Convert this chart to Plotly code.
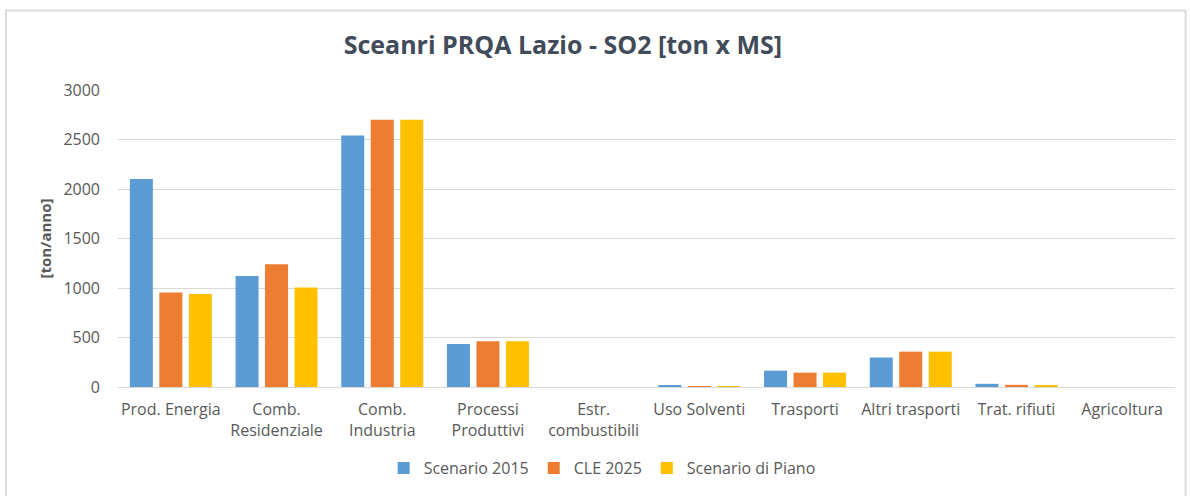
import plotly.graph_objects as go

# SO2 emissions by macro-sector, tonnes per year
categories = [
    "Prod. Energia",
    "Comb.<br>Residenziale",
    "Comb.<br>Industria",
    "Processi<br>Produttivi",
    "Estr.<br>combustibili",
    "Uso Solventi",
    "Trasporti",
    "Altri trasporti",
    "Trat. rifiuti",
    "Agricoltura",
]
scenario_2015 = [2100, 1120, 2540, 435, 0, 12, 165, 298, 32, 0]
cle_2025 = [955, 1240, 2700, 462, 0, 10, 145, 357, 22, 0]
scenario_piano = [940, 1005, 2700, 462, 0, 10, 145, 357, 20, 0]

series = [
    ("Scenario 2015", scenario_2015, "#5B9BD5"),
    ("CLE 2025", cle_2025, "#ED7D31"),
    ("Scenario di Piano", scenario_piano, "#FFC000"),
]

y_ticks = [0, 500, 1000, 1500, 2000, 2500, 3000]

text_gray = "#595959"
grid_gray = "#d9d9d9"
font_family = "Open Sans, DejaVu Sans, sans-serif"

fig = go.Figure()
for name, values, color in series:
    fig.add_trace(
        go.Bar(
            name=name,
            x=categories,
            y=values,
            marker=dict(color=color, line=dict(width=0)),
        )
    )

fig.update_layout(
    width=1190,
    height=496,
    margin=dict(l=118, r=15, t=90, b=109),
    paper_bgcolor="white",
    plot_bgcolor="white",
    barmode="group",
    bargap=0.163,
    bargroupgap=0.22,
    font=dict(family=font_family, size=16, color=text_gray),
    title=dict(
        text="<b>Sceanri PRQA Lazio - SO2 [ton x MS]</b>",
        font=dict(family=font_family, size=25, color="#414b5a"),
        x=0.473,
        xref="container",
        xanchor="center",
        y=0.908,
        yref="container",
        yanchor="middle",
    ),
    xaxis=dict(
        showgrid=False,
        showline=True,
        linecolor=grid_gray,
        linewidth=1,
        ticks="",
        tickfont=dict(size=16, color=text_gray),
        ticklabelstandoff=8,
        automargin=False,
    ),
    yaxis=dict(
        range=[0, 3000],
        tickvals=y_ticks,
        ticktext=[str(v) for v in y_ticks],
        showgrid=True,
        gridcolor=grid_gray,
        gridwidth=1,
        zeroline=False,
        showline=False,
        ticks="",
        tickfont=dict(size=16, color=text_gray),
        ticklabelstandoff=17,
        automargin=False,
        title=dict(
            text="<b>[ton/anno]</b>",
            font=dict(size=15, color=text_gray),
            standoff=8,
        ),
    ),
    legend=dict(
        orientation="h",
        x=0.506,
        xref="container",
        xanchor="center",
        y=1 - 468 / 496,
        yref="container",
        yanchor="middle",
        font=dict(size=16, color=text_gray),
        itemwidth=30,
        traceorder="normal",
    ),
    showlegend=True,
)

# Light frame around the whole chart
fig.add_shape(
    type="rect",
    xref="paper",
    yref="paper",
    x0=-0.106,
    x1=1.01,
    y0=-0.45,
    y1=1.268,
    line=dict(color="#dcdcdc", width=2),
    fillcolor="rgba(0,0,0,0)",
    layer="below",
)

fig.write_html("out.html")
